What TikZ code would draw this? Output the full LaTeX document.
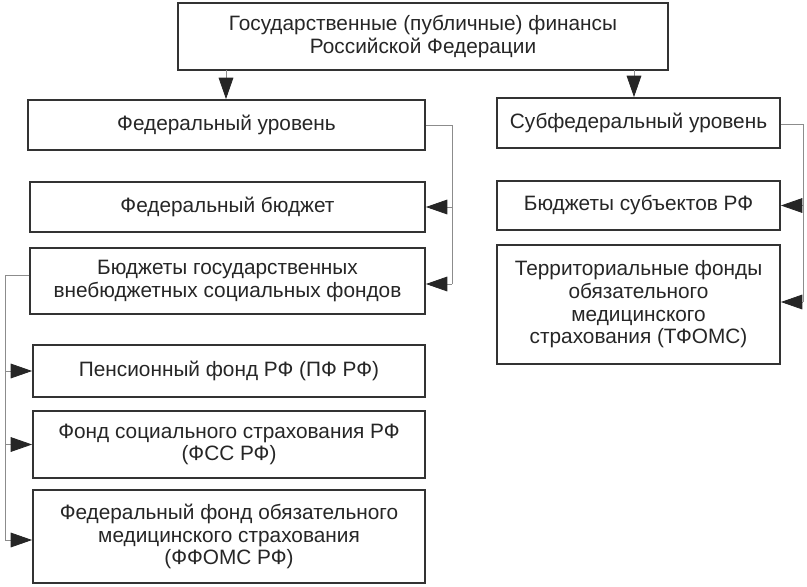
\documentclass[tikz,border=0pt]{standalone}
\usepackage{fontspec}
\setmainfont{Liberation Sans}
\usetikzlibrary{arrows.meta}
\tikzset{
  box/.style={draw=black!80,line width=1.4pt,inner sep=0pt,align=center,text=black!85,font=\fontsize{15.6}{17}\selectfont},
  conn/.style={draw=black!45,line width=0.6pt},
  arr/.style={draw=black!45,line width=0.6pt,arrows={-Triangle[length=16pt,width=11pt,color=black!85,fill=black!85]}}}
\begin{document}
\begin{tikzpicture}[x=0.75pt,y=-0.75pt]
\useasboundingbox (0,0) rectangle (807,586);
\fill[white] (0,0) rectangle (807,586);
\newcommand\pbox[6]{\node[box,minimum width={(#4-#2)*0.75pt},minimum height={(#5-#3)*0.75pt}] (#1) at ({(#2+#4)/2},{(#3+#5)/2}) {#6};}
\pbox{top}{178}{3}{668}{70}{Государственные (публичные) финансы\\Российской Федерации}
\pbox{fed}{28}{100}{425}{150}{Федеральный уровень}
\pbox{fb}{30}{182}{425}{232}{Федеральный бюджет}
\pbox{funds}{30}{248}{425}{314}{Бюджеты государственных\\внебюджетных социальных фондов}
\pbox{pf}{33}{345}{425}{397}{Пенсионный фонд РФ (ПФ РФ)}
\pbox{fss}{33}{411}{425}{478}{Фонд социального страхования РФ\\(ФСС РФ)}
\pbox{ffoms}{33}{490}{425}{583}{Федеральный фонд обязательного\\медицинского страхования\\(ФФОМС РФ)}
\pbox{sub}{497}{98}{780}{148}{Субфедеральный уровень}
\pbox{bs}{497}{181}{780}{230}{Бюджеты субъектов РФ}
\pbox{tf}{497}{245}{780}{364}{Территориальные фонды\\обязательного\\медицинского\\страхования (ТФОМС)}
% connector bend points
\coordinate (r1) at (452,125);
\coordinate (r1b) at (452,284);
\coordinate (r2) at (803,124);
\coordinate (r2b) at (803,302);
\coordinate (l1) at (5,275);
\coordinate (l1b) at (5,540);
\coordinate (ta) at (226,70);
\coordinate (tb) at (634,70);
\draw[arr] (ta) -- (ta |- fed.north);
\draw[arr] (tb) -- (tb |- sub.north);
\draw[conn] (fed.east |- r1) -- (r1) -- (r1b);
\draw[arr] (r1 |- fb) -- (fb.east);
\draw[arr] (r1b) -- (funds.east |- r1b);
\draw[conn] (sub.east |- r2) -- (r2) -- (r2b);
\draw[arr] (r2 |- bs) -- (bs.east);
\draw[arr] (r2b) -- (tf.east |- r2b);
\draw[conn] (funds.west |- l1) -- (l1) -- (l1b);
\draw[arr] (l1 |- pf) -- (pf.west);
\draw[arr] (l1 |- fss) -- (fss.west);
\draw[arr] (l1b) -- (ffoms.west |- l1b);
\end{tikzpicture}
\end{document}
